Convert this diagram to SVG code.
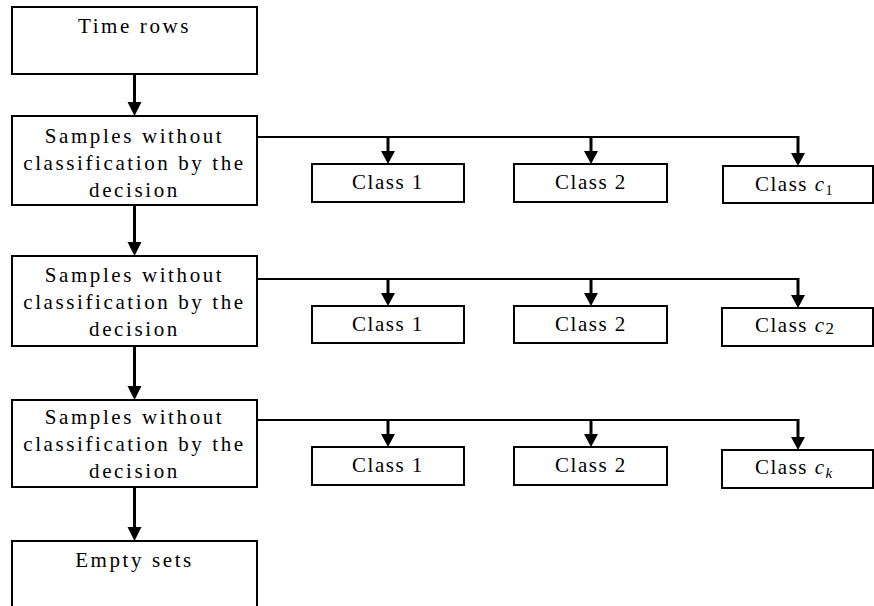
<svg xmlns="http://www.w3.org/2000/svg" width="874" height="606" viewBox="0 0 874 606">
<defs>
<style>
.box{fill:#fff;stroke:#000;stroke-width:2}
text{font-family:'Times New Roman','Liberation Serif',Times,'DejaVu Serif',serif}
.t{font-size:21px;letter-spacing:2.6px;fill:#000;text-anchor:middle}
.c{font-size:21px;letter-spacing:1.5px;fill:#000}
.it{font-style:italic}
.v{stroke:#000;stroke-width:3;fill:none}
.h{stroke:#000;stroke-width:2;fill:none}
</style>
</defs>
<rect width="874" height="606" fill="#fff"/>

<g id="connectors">
<line class="v" x1="134.5" y1="74" x2="134.5" y2="102"/>
<polygon points="127.5,102 141.5,102 134.5,116"/>
<line class="v" x1="134.5" y1="205" x2="134.5" y2="242"/>
<polygon points="127.5,242 141.5,242 134.5,256"/>
<line class="v" x1="134.5" y1="346" x2="134.5" y2="386"/>
<polygon points="127.5,386 141.5,386 134.5,400"/>
<line class="v" x1="134.5" y1="487" x2="134.5" y2="527"/>
<polygon points="127.5,527 141.5,527 134.5,541"/>

<line class="h" x1="257" y1="137" x2="799" y2="137"/>
<line class="v" x1="388" y1="136" x2="388" y2="151"/>
<polygon points="381,151 395,151 388,164"/>
<line class="v" x1="591" y1="136" x2="591" y2="151"/>
<polygon points="584,151 598,151 591,164"/>
<line class="v" x1="798" y1="136" x2="798" y2="153"/>
<polygon points="791,153 805,153 798,166"/>

<line class="h" x1="257" y1="279" x2="799" y2="279"/>
<line class="v" x1="388" y1="278" x2="388" y2="293"/>
<polygon points="381,293 395,293 388,306"/>
<line class="v" x1="591" y1="278" x2="591" y2="293"/>
<polygon points="584,293 598,293 591,306"/>
<line class="v" x1="798" y1="278" x2="798" y2="295"/>
<polygon points="791,295 805,295 798,308"/>

<line class="h" x1="257" y1="420" x2="799" y2="420"/>
<line class="v" x1="388" y1="419" x2="388" y2="434"/>
<polygon points="381,434 395,434 388,447"/>
<line class="v" x1="591" y1="419" x2="591" y2="434"/>
<polygon points="584,434 598,434 591,447"/>
<line class="v" x1="798" y1="419" x2="798" y2="437"/>
<polygon points="791,437 805,437 798,450"/>
</g>

<g id="time-rows">
<rect class="box" x="12" y="7" width="245" height="67"/>
<text class="t" x="134.5" y="33">Time rows</text>
</g>

<g id="samples-1">
<rect class="box" x="12" y="116" width="245" height="89"/>
<text class="t" x="134.5" y="143">Samples without</text>
<text class="t" x="134.5" y="170">classification by the</text>
<text class="t" x="134.5" y="197">decision</text>
</g>
<g id="class1-1">
<rect class="box" x="312" y="164" width="152" height="38"/>
<text class="c" x="388" y="189" text-anchor="middle">Class 1</text>
</g>
<g id="class2-1">
<rect class="box" x="514" y="164" width="153" height="38"/>
<text class="c" x="591" y="189" text-anchor="middle">Class 2</text>
</g>
<g id="classc-1">
<rect class="box" x="723" y="166" width="150" height="37"/>
<text class="c" x="755" y="191">Class <tspan class="it">c</tspan><tspan font-size="14" dy="4">1</tspan></text>
</g>

<g id="samples-2">
<rect class="box" x="12" y="256" width="245" height="90"/>
<text class="t" x="134.5" y="282">Samples without</text>
<text class="t" x="134.5" y="309">classification by the</text>
<text class="t" x="134.5" y="336">decision</text>
</g>
<g id="class1-2">
<rect class="box" x="312" y="306" width="152" height="37"/>
<text class="c" x="388" y="331" text-anchor="middle">Class 1</text>
</g>
<g id="class2-2">
<rect class="box" x="514" y="306" width="153" height="37"/>
<text class="c" x="591" y="331" text-anchor="middle">Class 2</text>
</g>
<g id="classc-2">
<rect class="box" x="722" y="308" width="151" height="38"/>
<text class="c" x="755" y="332">Class <tspan class="it">c</tspan><tspan font-size="17" dy="2">2</tspan></text>
</g>

<g id="samples-3">
<rect class="box" x="12" y="400" width="245" height="87"/>
<text class="t" x="134.5" y="424">Samples without</text>
<text class="t" x="134.5" y="451">classification by the</text>
<text class="t" x="134.5" y="478">decision</text>
</g>
<g id="class1-3">
<rect class="box" x="312" y="447" width="152" height="38"/>
<text class="c" x="388" y="472" text-anchor="middle">Class 1</text>
</g>
<g id="class2-3">
<rect class="box" x="514" y="447" width="153" height="38"/>
<text class="c" x="591" y="472" text-anchor="middle">Class 2</text>
</g>
<g id="classc-3">
<rect class="box" x="722" y="450" width="151" height="38"/>
<text class="c" x="755" y="474">Class <tspan class="it">c</tspan><tspan class="it" font-size="15" dy="4">k</tspan></text>
</g>

<g id="empty-sets">
<rect class="box" x="12" y="541" width="245" height="75"/>
<text class="t" x="134.5" y="567">Empty sets</text>
</g>
</svg>
